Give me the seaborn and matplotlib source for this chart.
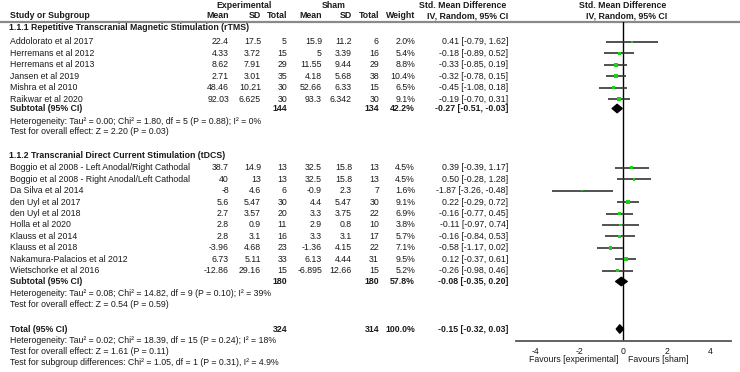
import numpy as np
import pandas as pd
import seaborn as sns
import matplotlib.pyplot as plt

sns.set_style("white")
plt.rcParams['font.family'] = ['Liberation Sans', 'DejaVu Sans']

# ---- data ----
group_titles = ["1.1.1 Repetitive Transcranial Magnetic Stimulation (rTMS)",
                "1.1.2 Transcranial Direct Current Stimulation (tDCS)"]

names1 = ["Addolorato et al 2017", "Herremans et al 2012", "Herremans et al 2013",
          "Jansen et al 2019", "Mishra et al 2010", "Raikwar et al 2020"]
exp_mean1 = [22.4, 4.33, 8.62, 2.71, 48.46, 92.03]
exp_sd1 = [17.5, 3.72, 7.91, 3.01, 10.21, 6.625]
exp_n1 = [5, 15, 29, 35, 30, 30]
sham_mean1 = [15.9, 5, 11.55, 4.18, 52.66, 93.3]
sham_sd1 = [11.2, 3.39, 9.44, 5.68, 6.33, 6.342]
sham_n1 = [6, 16, 29, 38, 15, 30]
weight1 = [2.0, 5.4, 8.8, 10.4, 6.5, 9.1]
smd1 = [0.41, -0.18, -0.33, -0.32, -0.45, -0.19]
lo1 = [-0.79, -0.89, -0.85, -0.78, -1.08, -0.70]
hi1 = [1.62, 0.52, 0.19, 0.15, 0.18, 0.31]

names2 = ["Boggio et al 2008 - Left Anodal/Right Cathodal",
          "Boggio et al 2008 - Right Anodal/Left Cathodal",
          "Da Silva et al 2014", "den Uyl et al 2017", "den Uyl et al 2018",
          "Holla et al 2020", "Klauss et al 2014", "Klauss et al 2018",
          "Nakamura-Palacios et al 2012", "Wietschorke et al 2016"]
exp_mean2 = [38.7, 40, -8, 5.6, 2.7, 2.8, 2.8, -3.96, 6.73, -12.86]
exp_sd2 = [14.9, 13, 4.6, 5.47, 3.57, 0.9, 3.1, 4.68, 5.11, 29.16]
exp_n2 = [13, 13, 6, 30, 20, 11, 16, 23, 33, 15]
sham_mean2 = [32.5, 32.5, -0.9, 4.4, 3.3, 2.9, 3.3, -1.36, 6.13, -6.895]
sham_sd2 = [15.8, 15.8, 2.3, 5.47, 3.75, 0.8, 3.1, 4.15, 4.44, 12.66]
sham_n2 = [13, 13, 7, 30, 22, 10, 17, 22, 31, 15]
weight2 = [4.5, 4.5, 1.6, 9.1, 6.9, 3.8, 5.7, 7.1, 9.5, 5.2]
smd2 = [0.39, 0.50, -1.87, 0.22, -0.16, -0.11, -0.16, -0.58, 0.12, -0.26]
lo2 = [-0.39, -0.28, -3.26, -0.29, -0.77, -0.97, -0.84, -1.17, -0.37, -0.98]
hi2 = [1.17, 1.28, -0.48, 0.72, 0.45, 0.74, 0.53, 0.02, 0.61, 0.46]

sub_exp_n = [144, 180]
sub_sham_n = [134, 180]
sub_weight = [42.2, 57.8]
sub_smd = [-0.27, -0.08]
sub_lo = [-0.51, -0.35]
sub_hi = [-0.03, 0.20]
sub_het = ["Heterogeneity: Tau\u00b2 = 0.00; Chi\u00b2 = 1.80, df = 5 (P = 0.88); I\u00b2 = 0%",
           "Heterogeneity: Tau\u00b2 = 0.08; Chi\u00b2 = 14.82, df = 9 (P = 0.10); I\u00b2 = 39%"]
sub_test = ["Test for overall effect: Z = 2.20 (P = 0.03)",
            "Test for overall effect: Z = 0.54 (P = 0.59)"]

tot_exp_n, tot_sham_n, tot_weight = 324, 314, 100.0
tot_smd, tot_lo, tot_hi = -0.15, -0.32, 0.03
tot_notes = ["Heterogeneity: Tau\u00b2 = 0.02; Chi\u00b2 = 18.39, df = 15 (P = 0.24); I\u00b2 = 18%",
             "Test for overall effect: Z = 1.61 (P = 0.11)",
             "Test for subgroup differences: Chi\u00b2 = 1.05, df = 1 (P = 0.31), I\u00b2 = 4.9%"]

xticks = [-4, -2, 0, 2, 4]
fav_left, fav_right = "Favours [experimental]", "Favours [sham]"

# ---- layout (pixel rows) ----
W, H = 740, 372
FS = 6.3
TC = '#1a1a1a'
y_study = [[42 + 11.45 * i for i in range(len(names1))],
           [167.7 + 11.45 * i for i in range(len(names2))]]
y_group = [28, 155]
y_sub = [108.5, 281.5]
y_het = [121, 293.5]
y_test = [132, 304.5]
y_total = 329
y_tot_notes = [340.5, 351.5, 362.5]
col_x = [229, 261, 287, 322, 352, 379, 415, 508]   # right edges

fig = plt.figure(figsize=(W / 100, H / 100), dpi=100)
ax = fig.add_axes([0, 0, 1, 1])
ax.set_xlim(0, W)
ax.set_ylim(H, 0)
ax.axis('off')


def txt(x, y, s, ha='left', bold=False):
    ax.text(x, y, s, ha=ha, va='center', fontsize=FS, color=TC,
            fontweight='bold' if bold else 'normal')


def fmt(v):
    return f"{v:g}"


def ci(s, l, h):
    return f"{s:.2f} [{l:.2f}, {h:.2f}]"


# header
txt(244, 5, "Experimental", ha='center', bold=True)
txt(334, 5, "Sham", ha='center', bold=True)
txt(463, 5, "Std. Mean Difference", ha='center', bold=True)
txt(623, 5, "Std. Mean Difference", ha='center', bold=True)
txt(10, 16, "Study or Subgroup", bold=True)
for x, s in zip(col_x, ["Mean", "SD", "Total", "Mean", "SD", "Total", "Weight",
                        "IV, Random, 95% CI"]):
    txt(x, 16, s, ha='right', bold=True)
txt(627, 16, "IV, Random, 95% CI", ha='center', bold=True)
ax.plot([0, W], [22, 22], color='#8a8a8a', lw=1.6)

groups = [
    (names1, exp_mean1, exp_sd1, exp_n1, sham_mean1, sham_sd1, sham_n1, weight1, smd1, lo1, hi1),
    (names2, exp_mean2, exp_sd2, exp_n2, sham_mean2, sham_sd2, sham_n2, weight2, smd2, lo2, hi2),
]

for g, (nm, em, es, en, sm, ss, sn, wt, sd, lo, hi) in enumerate(groups):
    txt(9, y_group[g], group_titles[g], bold=True)
    for i in range(len(nm)):
        y = y_study[g][i]
        txt(10, y, nm[i])
        vals = [fmt(em[i]), fmt(es[i]), fmt(en[i]), fmt(sm[i]), fmt(ss[i]), fmt(sn[i]),
                f"{wt[i]:.1f}%", ci(sd[i], lo[i], hi[i])]
        for x, s in zip(col_x, vals):
            txt(x, y, s, ha='right')
    ys = y_sub[g]
    txt(10, ys, "Subtotal (95% CI)", bold=True)
    txt(col_x[2], ys, str(sub_exp_n[g]), ha='right', bold=True)
    txt(col_x[5], ys, str(sub_sham_n[g]), ha='right', bold=True)
    txt(col_x[6], ys, f"{sub_weight[g]:.1f}%", ha='right', bold=True)
    txt(col_x[7], ys, ci(sub_smd[g], sub_lo[g], sub_hi[g]), ha='right', bold=True)
    txt(10, y_het[g], sub_het[g])
    txt(10, y_test[g], sub_test[g])

txt(10, y_total, "Total (95% CI)", bold=True)
txt(col_x[2], y_total, str(tot_exp_n), ha='right', bold=True)
txt(col_x[5], y_total, str(tot_sham_n), ha='right', bold=True)
txt(col_x[6], y_total, f"{tot_weight:.1f}%", ha='right', bold=True)
txt(col_x[7], y_total, ci(tot_smd, tot_lo, tot_hi), ha='right', bold=True)
for y, s in zip(y_tot_notes, tot_notes):
    txt(10, y, s)

# ---- forest panel ----
ax_l, ax_r, ax_t, ax_b = 516, 731, 22, 341
fax = fig.add_axes([ax_l / W, (H - ax_b) / H, (ax_r - ax_l) / W, (ax_b - ax_t) / H])
fax.set_facecolor('none')
fax.set_xlim(-4.9, 4.94)
fax.set_ylim(ax_b, ax_t)

df = pd.DataFrame({
    'smd': smd1 + smd2,
    'lo': lo1 + lo2,
    'hi': hi1 + hi2,
    'weight': weight1 + weight2,
    'y': y_study[0] + y_study[1],
})
fax.hlines(df['y'], df['lo'], df['hi'], color='#333333', lw=1.2, zorder=2)
sns.scatterplot(data=df, x='smd', y='y', size='weight', sizes=(1.5, 9),
                size_norm=(1.6, 10.4), marker='s', color='#19d219',
                edgecolor='none', legend=False, ax=fax, zorder=3)

diamonds = [(sub_smd[0], sub_lo[0], sub_hi[0], y_sub[0]),
            (sub_smd[1], sub_lo[1], sub_hi[1], y_sub[1]),
            (tot_smd, tot_lo, tot_hi, y_total)]
for est, l, h, y in diamonds:
    fax.fill([l, est, h, est], [y, y - 4.4, y, y + 4.4], color='black', lw=0.8,
             edgecolor='black', zorder=4)

fax.axvline(0, color='black', lw=1.0, zorder=1)
fax.set_xticks(xticks)
fax.set_xticklabels([str(t) for t in xticks])
fax.set_yticks([])
fax.set_xlabel('')
fax.set_ylabel('')
for side in ['top', 'left', 'right']:
    fax.spines[side].set_visible(False)
fax.spines['bottom'].set_color('#555555')
fax.spines['bottom'].set_linewidth(1.3)
fax.tick_params(axis='x', direction='inout', length=7, width=1.0, color='#555555',
                labelsize=FS, labelcolor=TC, pad=0.5)

txt(618, 359.5, fav_left, ha='right')
txt(628, 359.5, fav_right, ha='left')

fig.savefig('out.png', dpi=100, facecolor='white')
